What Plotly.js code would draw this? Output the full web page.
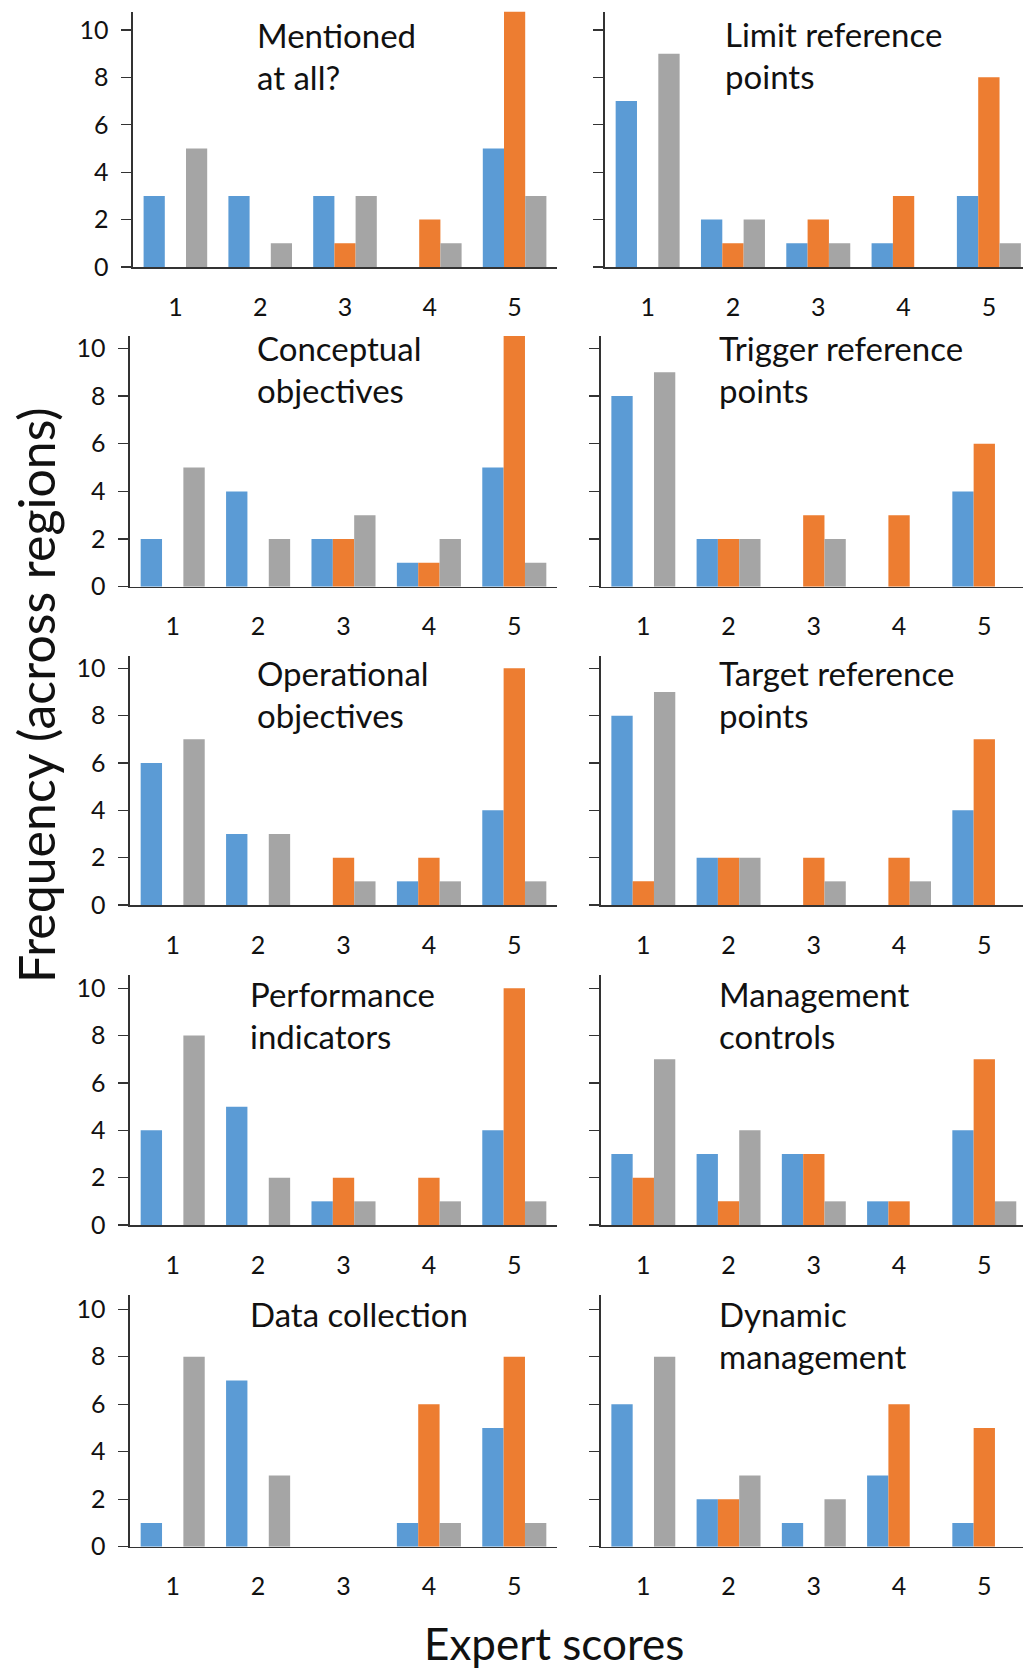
<!DOCTYPE html>
<html><head><meta charset="utf-8">
<script src="https://cdn.plot.ly/plotly-3.0.1.min.js"></script>
<style>html,body{margin:0;padding:0;background:#fff;} #chart{width:1023px;height:1671px;}</style>
</head><body><div id="chart"></div>
<script>
// ---------- DATA ----------
const scores = [1, 2, 3, 4, 5];
const scoreLabels = ['1', '2', '3', '4', '5'];
const yTickVals = [0, 2, 4, 6, 8, 10];
const seriesNames = ['Series 1', 'Series 2', 'Series 3'];

const panelTitles = [
  ['Mentioned', 'at all?'],
  ['Limit reference', 'points'],
  ['Conceptual', 'objectives'],
  ['Trigger reference', 'points'],
  ['Operational', 'objectives'],
  ['Target reference', 'points'],
  ['Performance', 'indicators'],
  ['Management', 'controls'],
  ['Data collection'],
  ['Dynamic', 'management']
];

// each panel: [blue, orange, gray] counts for scores 1..5
const mentionedAtAll        = [[3, 3, 3, 0, 5], [0, 0, 1, 2, 11], [5, 1, 3, 1, 3]];
const limitRefPoints        = [[7, 2, 1, 1, 3], [0, 1, 2, 3, 8],  [9, 2, 1, 0, 1]];
const conceptualObjectives  = [[2, 4, 2, 1, 5], [0, 0, 2, 1, 11], [5, 2, 3, 2, 1]];
const triggerRefPoints      = [[8, 2, 0, 0, 4], [0, 2, 3, 3, 6],  [9, 2, 2, 0, 0]];
const operationalObjectives = [[6, 3, 0, 1, 4], [0, 0, 2, 2, 10], [7, 3, 1, 1, 1]];
const targetRefPoints       = [[8, 2, 0, 0, 4], [1, 2, 2, 2, 7],  [9, 2, 1, 1, 0]];
const performanceIndicators = [[4, 5, 1, 0, 4], [0, 0, 2, 2, 10], [8, 2, 1, 1, 1]];
const managementControls    = [[3, 3, 3, 1, 4], [2, 1, 3, 1, 7],  [7, 4, 1, 0, 1]];
const dataCollection        = [[1, 7, 0, 1, 5], [0, 0, 0, 6, 8],  [8, 3, 0, 1, 1]];
const dynamicManagement     = [[6, 2, 1, 3, 1], [0, 2, 0, 6, 5],  [8, 3, 2, 0, 0]];

const panels = [mentionedAtAll, limitRefPoints, conceptualObjectives, triggerRefPoints,
  operationalObjectives, targetRefPoints, performanceIndicators, managementControls,
  dataCollection, dynamicManagement];

const yAxisTitle = 'Frequency (across regions)';
const xAxisTitle = 'Expert scores';

// ---------- STYLE / LAYOUT ----------
const W = 1023, H = 1671;
const colors = ['#5B9BD5', '#ED7D31', '#A5A5A5'];
const FONT = 'Lato, "Open Sans", sans-serif';
const TXT = '#111111';
const AXC = '#333333';

// pixel geometry per row: zero line, top of axis, top of y range
const rowGeom = [
  {y0: 267,   ytop: 11.7, top: 10.77},
  {y0: 586.7, ytop: 336,  top: 10.52},
  {y0: 905,   ytop: 656,  top: 10.52},
  {y0: 1225,  ytop: 975,  top: 10.56},
  {y0: 1546.7,ytop: 1295, top: 10.6}
];
const colGeom = [
  [{x0: 133, x1: 557, xr: 5.5}, {x0: 605, x1: 1023, xr: 5.40}],
  [{x0: 130, x1: 557, xr: 5.5}, {x0: 600.7, x1: 1023, xr: 5.454}],
  [{x0: 130, x1: 557, xr: 5.5}, {x0: 600.7, x1: 1023, xr: 5.454}],
  [{x0: 130, x1: 557, xr: 5.5}, {x0: 600.7, x1: 1023, xr: 5.454}],
  [{x0: 130, x1: 557, xr: 5.5}, {x0: 600.7, x1: 1023, xr: 5.454}]
];
// title positions: left x and first-line baseline
const titlePos = [
  [{x: 255, b: 48}, {x: 723, b: 47}],
  [{x: 255, b: 361}, {x: 717, b: 361}],
  [{x: 255, b: 686}, {x: 717, b: 686}],
  [{x: 248, b: 1007}, {x: 717, b: 1007}],
  [{x: 248, b: 1327}, {x: 717, b: 1327}]
];
const TITLE_FS = 33, LINE_GAP = 42.5, TICK_FS = 25;

const traces = [];
const layout = {
  width: W, height: H,
  margin: {l: 0, r: 0, t: 0, b: 0},
  paper_bgcolor: '#ffffff', plot_bgcolor: 'rgba(0,0,0,0)',
  showlegend: false,
  barmode: 'group', bargap: 0.25, bargroupgap: 0,
  font: {family: FONT, color: TXT},
  annotations: []
};

panels.forEach((panel, i) => {
  const r = Math.floor(i / 2), c = i % 2;
  const id = i === 0 ? '' : String(i + 1);
  const g = rowGeom[r], cg = colGeom[r][c];
  panel.forEach((vals, s) => {
    traces.push({
      type: 'bar', x: scores, y: vals, name: seriesNames[s],
      xaxis: 'x' + id, yaxis: 'y' + id,
      marker: {color: colors[s], line: {width: 0}},
      hoverinfo: 'skip'
    });
  });
  layout['xaxis' + id] = {
    domain: [cg.x0 / W, cg.x1 / W],
    range: [0.5, cg.xr], anchor: 'y' + id,
    tickvals: scores, ticktext: scoreLabels,
    showline: true, linecolor: AXC, linewidth: 1.6,
    ticks: '', showgrid: false, zeroline: false,
    ticklabelstandoff: 17,
    tickfont: {family: FONT, size: TICK_FS, color: TXT},
    fixedrange: true
  };
  layout['yaxis' + id] = {
    domain: [1 - g.y0 / H, 1 - g.ytop / H],
    range: [0, g.top], anchor: 'x' + id,
    tickvals: yTickVals,
    showticklabels: c === 0,
    showline: true, linecolor: AXC, linewidth: 1.6,
    ticks: 'outside', ticklen: 10, tickwidth: 1.3, tickcolor: AXC,
    showgrid: false, zeroline: false,
    ticklabelstandoff: 8,
    tickfont: {family: FONT, size: TICK_FS, color: TXT},
    fixedrange: true
  };
  const tp = titlePos[r][c];
  panelTitles[i].forEach((line, k) => {
    const base = tp.b + k * LINE_GAP;
    layout.annotations.push({
      xref: 'paper', yref: 'paper', showarrow: false,
      x: tp.x / W, y: 1 - (base - 0.4 * TITLE_FS) / H,
      xanchor: 'left', yanchor: 'middle',
      text: line, font: {family: FONT, size: TITLE_FS, color: TXT}
    });
  });
});

layout.annotations.push({
  xref: 'paper', yref: 'paper', showarrow: false,
  x: 36 / W, y: 1 - 695 / H, xanchor: 'center', yanchor: 'middle',
  textangle: -90, text: yAxisTitle,
  font: {family: FONT, size: 50, color: TXT}
});
layout.annotations.push({
  xref: 'paper', yref: 'paper', showarrow: false,
  x: 554 / W, y: 1 - 1643 / H, xanchor: 'center', yanchor: 'middle',
  text: xAxisTitle,
  font: {family: FONT, size: 44, color: TXT}
});

Plotly.newPlot('chart', traces, layout, {displayModeBar: false, staticPlot: true});
</script>
</body></html>
